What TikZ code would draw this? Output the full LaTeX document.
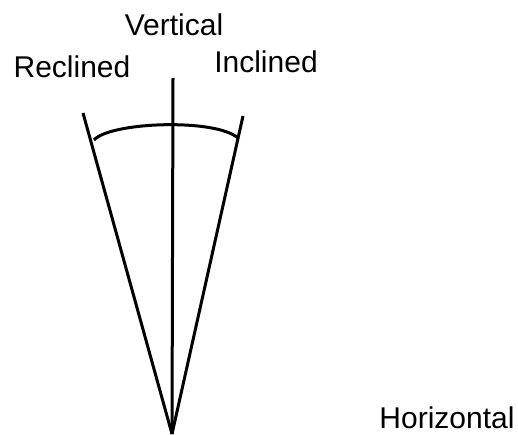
\documentclass[tikz,border=0pt]{standalone}
\usepackage{fontspec}
\setmainfont{Liberation Sans}
\begin{document}
\begin{tikzpicture}[x=1pt,y=-1pt,
  lbl/.style={inner sep=0pt, anchor=base, font=\fontsize{30}{32}\selectfont},
  ray/.style={line width=3pt}]
\useasboundingbox (0,0) rectangle (518,434);
\coordinate (apex) at (172,434);
\coordinate (vtop) at (173,78);
\coordinate (ltop) at (83,113);
\coordinate (rtop) at (243,116);
\coordinate (arcL) at (94,140);
\coordinate (arcR) at (238,138);
\draw[ray] (apex) -- (vtop);
\draw[ray] (apex) -- (ltop);
\draw[ray] (apex) -- (rtop);
\draw[ray] (arcL) .. controls (110,122) and (215,118) .. (arcR);
\node[lbl] (vert) at (174,35) {Vertical};
\node[lbl] (recl) at (72,77) {Reclined};
\node[lbl] (incl) at (266,72) {Inclined};
\node[lbl] (horiz) at (447,428) {Horizontal};
\end{tikzpicture}
\end{document}
